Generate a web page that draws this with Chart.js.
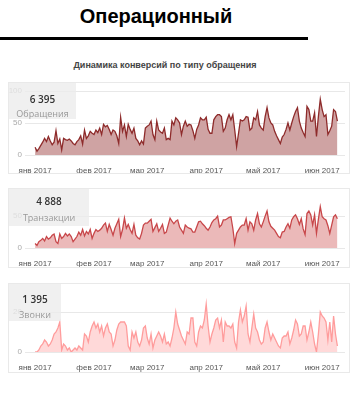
<!DOCTYPE html>
<html>
<head>
<meta charset="utf-8">
<script src="https://cdn.jsdelivr.net/npm/chart.js@4.4.0/dist/chart.umd.min.js"></script>
<style>
  body { margin: 0; width: 352px; height: 406px; background: #fff; position: relative; overflow: hidden; font-family: 'Liberation Sans', Arial, sans-serif; }
  #title { position: absolute; left: 0; width: 312px; top: 5px; text-align: center; font-weight: bold; font-size: 20px; color: #000; }
  #rule { position: absolute; left: 0; top: 37px; width: 308px; height: 3px; background: #000; }
  #subtitle { position: absolute; left: 0; width: 330px; top: 60px; text-align: center; font-size: 9px; font-weight: bold; color: #444; }
  .card { position: absolute; left: 8px; width: 342px; box-sizing: border-box; border: 1px solid #e9e9e9; background: #fff; }
  .card canvas { position: absolute; left: 0; top: 0; }
  .badge { position: absolute; left: 0; top: 0; background: rgba(236, 236, 236, 0.78); font-family: 'Open Sans', sans-serif; text-align: center; }
  .badge .num { position: absolute; left: 0; right: 0; font-size: 10px; font-weight: 600; color: #333; line-height: 12px; }
  .badge .lbl { position: absolute; left: 0; right: 0; font-size: 9px; color: #999; line-height: 12px; }
</style>
</head>
<body>
<div id="title">Операционный</div>
<div id="rule"></div>
<div id="subtitle">Динамика конверсий по типу обращения</div>

<div class="card" style="top:82px;height:92px;">
  <canvas id="c1" width="340" height="90"></canvas>
  <div class="badge" style="width:67px;height:36px;">
    <div class="num" style="top:10px;">6 395</div>
    <div class="lbl" style="top:25px;">Обращения</div>
  </div>
</div>

<div class="card" style="top:188px;height:80px;">
  <canvas id="c2" width="340" height="78"></canvas>
  <div class="badge" style="width:80px;height:37px;">
    <div class="num" style="top:6px;">4 888</div>
    <div class="lbl" style="top:23px;">Транзакции</div>
  </div>
</div>

<div class="card" style="top:283px;height:90px;">
  <canvas id="c3" width="340" height="88"></canvas>
  <div class="badge" style="width:52px;height:37px;">
    <div class="num" style="top:9px;">1 395</div>
    <div class="lbl" style="top:25px;">Звонки</div>
  </div>
</div>

<script>
// days from 1 Jan 2017, one value per day
const monthStarts = [0, 31, 59, 90, 120, 151];
const monthLabels = ['янв 2017', 'фев 2017', 'мар 2017', 'апр 2017', 'май 2017', 'июн 2017'];

const requests = [
  12, 6, 10, 15, 20, 26, 21, 29, 22, 16, 20, 38, 18, 25, 8, 26, 24, 23, 25, 22,
  18, 16, 21, 24, 30, 17, 39, 26, 30, 37, 34, 32, 39, 35, 42, 32, 48, 44, 46, 40,
  32, 39, 37, 30, 18, 59, 37, 47, 29, 48, 40, 34, 42, 26, 22, 16, 22, 17, 42, 45,
  47, 53, 32, 24, 53, 39, 36, 34, 42, 24, 26, 24, 53, 47, 58, 55, 50, 32, 45, 53,
  45, 48, 47, 38, 26, 40, 47, 58, 55, 55, 59, 40, 34, 34, 55, 60, 63, 63, 60, 37,
  42, 55, 63, 55, 63, 39, 13, 34, 55, 53, 55, 60, 59, 39, 42, 58, 55, 68, 47, 42,
  39, 60, 74, 58, 50, 47, 37, 30, 24, 18, 28, 32, 40, 50, 39, 50, 60, 68, 74, 53,
  42, 35, 29, 76, 71, 53, 53, 66, 29, 60, 87, 71, 60, 63, 32, 38, 45, 71, 68, 53
];

const transactions = [
  7, 4, 10, 12, 15, 11, 18, 14, 16, 20, 22, 10, 7, 22, 15, 18, 23, 19, 22, 18,
  10, 14, 18, 25, 20, 29, 19, 26, 22, 29, 15, 23, 29, 26, 28, 31, 36, 39, 26, 37,
  29, 20, 31, 38, 45, 18, 29, 47, 31, 37, 29, 23, 37, 20, 16, 14, 23, 36, 39, 39,
  42, 45, 26, 32, 38, 26, 31, 37, 23, 25, 36, 47, 42, 38, 42, 44, 33, 28, 23, 36,
  33, 31, 30, 25, 25, 33, 41, 42, 38, 35, 31, 28, 33, 40, 44, 46, 50, 33, 36, 44,
  44, 46, 48, 49, 31, 7, 23, 28, 33, 36, 36, 46, 28, 41, 38, 28, 44, 54, 38, 33,
  41, 50, 58, 41, 34, 31, 28, 23, 18, 16, 25, 26, 33, 38, 31, 44, 49, 52, 46, 37,
  46, 30, 21, 54, 58, 52, 36, 52, 23, 45, 65, 49, 46, 44, 35, 23, 36, 49, 52, 46
];

const calls = [
  0, 0, 1, 3, 4, 6, 5, 3, 4, 6, 9, 10, 12, 15, 1, 4, 3, 1, 2, 0,
  1, 2, 1, 3, 2, 1, 9, 8, 5, 10, 13, 15, 12, 14, 10, 13, 8, 12, 14, 10,
  9, 3, 6, 11, 14, 15, 15, 15, 13, 3, 1, 10, 7, 10, 5, 3, 6, 12, 13, 7,
  4, 9, 2, 6, 8, 10, 8, 5, 9, 4, 5, 3, 7, 12, 20, 14, 11, 8, 6, 4,
  10, 9, 17, 17, 5, 3, 10, 13, 12, 16, 24, 13, 5, 9, 12, 16, 17, 12, 16, 5,
  15, 13, 13, 12, 14, 5, 2, 15, 21, 15, 18, 23, 9, 5, 12, 19, 12, 10, 6, 4,
  5, 12, 15, 10, 6, 9, 7, 5, 3, 2, 7, 8, 8, 10, 4, 7, 11, 16, 14, 8,
  9, 13, 13, 6, 10, 15, 10, 4, 0, 9, 20, 18, 17, 15, 6, 15, 5, 18, 9, 3
];

Chart.defaults.font.family = "'Liberation Sans', Arial, sans-serif";
Chart.defaults.font.size = 8;

function makeChart(id, values, yMax, yTicks, lineColor, fillColor, xAxisHeight) {
  const ctx = document.getElementById(id).getContext('2d');
  return new Chart(ctx, {
    type: 'line',
    data: {
      datasets: [{
        data: values.map((v, i) => ({ x: i, y: v })),
        borderColor: lineColor,
        backgroundColor: fillColor,
        borderWidth: 1.3,
        fill: 'origin',
        tension: 0,
        pointRadius: 0
      }]
    },
    options: {
      responsive: false,
      animation: false,
      layout: { padding: { top: 8, right: 4, left: 0, bottom: 0 } },
      plugins: { legend: { display: false }, tooltip: { enabled: false } },
      scales: {
        x: {
          type: 'linear',
          min: -5.3,
          max: 163,
          grid: { display: false },
          border: { display: false },
          afterBuildTicks: (axis) => { axis.ticks = monthStarts.map(v => ({ value: v })); },
          afterFit: (axis) => { axis.height = xAxisHeight; },
          ticks: {
            padding: 3,
            maxRotation: 0,
            autoSkip: false,
            color: '#555',
            callback: (v) => monthLabels[monthStarts.indexOf(v)]
          }
        },
        y: {
          min: 0,
          max: yMax,
          grid: { color: '#e8e8e8', drawTicks: false },
          border: { display: false },
          afterBuildTicks: (axis) => { axis.ticks = yTicks.map(v => ({ value: v })); },
          afterFit: (axis) => { axis.width = 16; },
          ticks: { padding: 3, color: '#aaa' }
        }
      }
    }
  });
}

makeChart('c1', requests, 100, [0, 50, 100], '#8e2b2b', '#cfa3a3', 18);
makeChart('c2', transactions, 80, [0, 50], '#c8474a', '#ebb9b9', 19);
makeChart('c3', calls, 30, [0, 20], '#ff9c9c', '#ffd9d9', 20);
</script>
</body>
</html>
